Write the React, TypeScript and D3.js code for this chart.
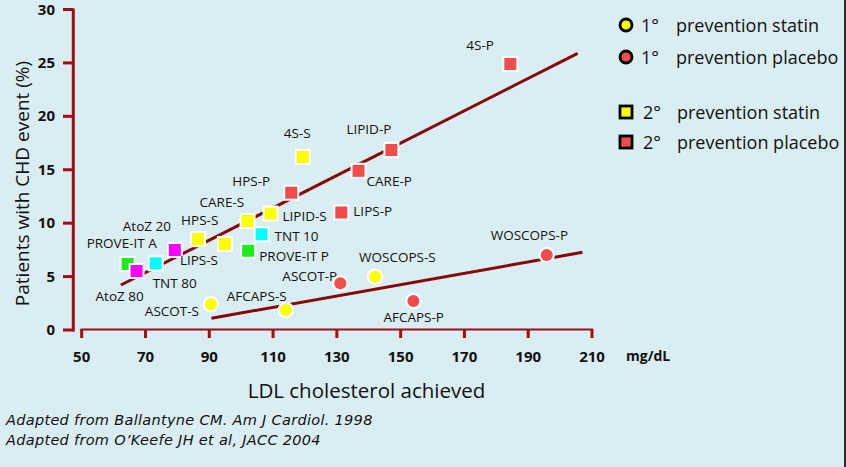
import React from "react";
import * as d3 from "d3";

// ---------- data ----------
const studies = [
  "4S-P", "LIPID-P", "CARE-P", "HPS-P", "LIPS-P",
  "4S-S", "LIPID-S", "CARE-S", "HPS-S", "LIPS-S",
  "TNT 10", "PROVE-IT P", "AtoZ 20", "TNT 80", "PROVE-IT A", "AtoZ 80",
  "ASCOT-S", "AFCAPS-S", "WOSCOPS-S", "ASCOT-P", "AFCAPS-P", "WOSCOPS-P",
];
const ldl = [
  184.4, 147.1, 136.8, 115.7, 131.4,
  119.3, 109.2, 102.0, 86.5, 94.9,
  106.4, 102.2, 79.2, 73.2, 64.4, 67.2,
  90.5, 114.0, 142.0, 131.1, 154.0, 195.8,
];
const events = [
  24.9, 16.85, 14.9, 12.85, 11.0,
  16.2, 10.9, 10.2, 8.5, 8.05,
  8.96, 7.42, 7.49, 6.24, 6.18, 5.52,
  2.41, 1.87, 4.99, 4.37, 2.71, 7.02,
];
// 1 = primary prevention (circle), 2 = secondary prevention (square)
const prevention = [
  2, 2, 2, 2, 2,
  2, 2, 2, 2, 2,
  2, 2, 2, 2, 2, 2,
  1, 1, 1, 1, 1, 1,
];
const arm = [
  "placebo", "placebo", "placebo", "placebo", "placebo",
  "statin", "statin", "statin", "statin", "statin",
  "TNT", "PROVE-IT", "AtoZ", "TNT", "PROVE-IT", "AtoZ",
  "statin", "statin", "statin", "placebo", "placebo", "placebo",
];
const secondaryTrendX = [62.3, 205.5];
const secondaryTrendY = [4.21, 25.9];
const primaryTrendX = [90.7, 207.0];
const primaryTrendY = [1.1, 7.27];

const xTicks = [50, 70, 90, 110, 130, 150, 170, 190, 210];
const yTicks = [0, 5, 10, 15, 20, 25, 30];

const legendLabels = [
  ["1°", "prevention statin"],
  ["1°", "prevention placebo"],
  ["2°", "prevention statin"],
  ["2°", "prevention placebo"],
];
const footnotes = [
  "Adapted from Ballantyne CM. Am J Cardiol. 1998",
  "Adapted from O’Keefe JH et al, JACC 2004",
];

// ---------- layout / style ----------
// label offsets (px) from marker centre, text-anchor start, baseline
const labelOffsets: [number, number][] = [
  [-44, -14], [-45, -16], [8, 15], [-59, -7], [12, 4],
  [-19, -19], [12, 7], [-48, -14], [-17, -14], [-45, 21],
  [13, 7], [11, 10], [-52, -19], [-3, 25], [-41, -16], [-41, 30],
  [-66, 12], [-59, -9], [-16, -15], [-58, -2], [-30, 21], [-56, -15],
];
const armColor: Record<string, string> = {
  statin: "#ffff00",
  placebo: "#f24b4b",
  TNT: "#00ffff",
  "PROVE-IT": "#1ee81e",
  AtoZ: "#ff00ff",
};
const AXIS = "#a10d12";
const TREND = "#850707";
const BG = "#d9edf3";
const FONT = "'Open Sans', 'Noto Sans', sans-serif";
const FOOT_FONT = "'DejaVu Sans', sans-serif";

const W = 846;
const H = 467;

export default function App() {
  const x = d3.scaleLinear().domain([50, 210]).range([81.7, 592]);
  const y = d3.scaleLinear().domain([0, 30]).range([330, 9.5]);
  const line = d3
    .line<[number, number]>()
    .x((d) => x(d[0]))
    .y((d) => y(d[1]));

  const secTrend = secondaryTrendX.map((v, i) => [v, secondaryTrendY[i]] as [number, number]);
  const priTrend = primaryTrendX.map((v, i) => [v, primaryTrendY[i]] as [number, number]);

  const legendY = [25, 57, 112, 142];

  return (
    <svg
      width={W}
      height={H}
      style={{ position: "absolute", left: 0, top: 0, display: "block" }}
      fontFamily={FONT}
    >
      <rect x={0} y={0} width={W} height={H} fill={BG} />
      <rect x={844} y={0} width={2} height={H} fill="#262d33" />

      {/* y axis */}
      <line x1={73.3} x2={73.3} y1={y(30) - 1} y2={y(0) + 1.5} stroke={AXIS} strokeWidth={3} />
      {yTicks.map((t) => (
        <g key={"yt" + t}>
          <line x1={63} x2={73.3} y1={y(t)} y2={y(t)} stroke={AXIS} strokeWidth={3} />
          <text
            x={55}
            y={y(t) + 5}
            textAnchor="end"
            fontWeight="bold"
            fontSize={15}
            fill="#111"
          >
            {t}
          </text>
        </g>
      ))}

      {/* x axis */}
      <line x1={x(50) - 1} x2={x(210) + 1} y1={329.5} y2={329.5} stroke={AXIS} strokeWidth={2} />
      {xTicks.map((t) => (
        <g key={"xt" + t}>
          <line x1={x(t)} x2={x(t)} y1={329} y2={338} stroke={AXIS} strokeWidth={3} />
          <text
            x={x(t)}
            y={362}
            textAnchor="middle"
            fontWeight="bold"
            fontSize={15}
            fill="#111"
          >
            {t}
          </text>
        </g>
      ))}
      <text x={626} y={361} fontWeight="bold" fontSize={14} fill="#111">
        mg/dL
      </text>

      {/* axis titles */}
      <text x={366.5} y={397.5} textAnchor="middle" fontSize={20.5} fill="#111">
        LDL cholesterol achieved
      </text>
      <text
        transform={`translate(29, ${183.5}) rotate(-90)`}
        textAnchor="middle"
        fontSize={19}
        fill="#111"
      >
        Patients with CHD event (%)
      </text>

      {/* trend lines */}
      <path d={line(secTrend) || ""} stroke={TREND} strokeWidth={3} fill="none" />
      <path d={line(priTrend) || ""} stroke={TREND} strokeWidth={3} fill="none" />

      {/* markers */}
      {studies.map((s, i) => {
        const cx = x(ldl[i]);
        const cy = y(events[i]);
        const c = armColor[arm[i]];
        return prevention[i] === 2 ? (
          <g key={s}>
            <rect x={cx - 8} y={cy - 8} width={16} height={16} fill="#fff" />
            <rect x={cx - 6} y={cy - 6} width={12} height={12} fill={c} />
          </g>
        ) : (
          <g key={s}>
            <circle cx={cx} cy={cy} r={8.3} fill="#fff" />
            <circle cx={cx} cy={cy} r={6} fill={c} />
          </g>
        );
      })}

      {/* labels */}
      {studies.map((s, i) => (
        <text
          key={"l" + s}
          x={x(ldl[i]) + labelOffsets[i][0]}
          y={y(events[i]) + labelOffsets[i][1]}
          fontSize={13.5}
          fill="#111"
        >
          {s}
        </text>
      ))}

      {/* legend */}
      {legendLabels.map((lab, i) => {
        const cy = legendY[i];
        const fill = i % 2 === 0 ? armColor.statin : armColor.placebo;
        return (
          <g key={"lg" + i}>
            {i < 2 ? (
              <circle cx={626} cy={cy} r={6} fill={fill} stroke="#000" strokeWidth={2.8} />
            ) : (
              <rect x={620} y={cy - 6} width={12} height={12} fill={fill} stroke="#000" strokeWidth={2.8} />
            )}
            <text x={i < 2 ? 641 : 643} y={cy + 7} fontSize={18} fill="#111">
              {lab[0]}
            </text>
            <text x={i < 2 ? 676 : 677} y={cy + 7} fontSize={18} fill="#111">
              {lab[1]}
            </text>
          </g>
        );
      })}

      {/* footnotes */}
      {footnotes.map((f, i) => (
        <text
          key={"fn" + i}
          x={6}
          y={424.5 + i * 20}
          fontSize={14.5}
          letterSpacing={0.3}
          fontStyle="italic"
          fontFamily={FOOT_FONT}
          fill="#111"
        >
          {f}
        </text>
      ))}
    </svg>
  );
}
